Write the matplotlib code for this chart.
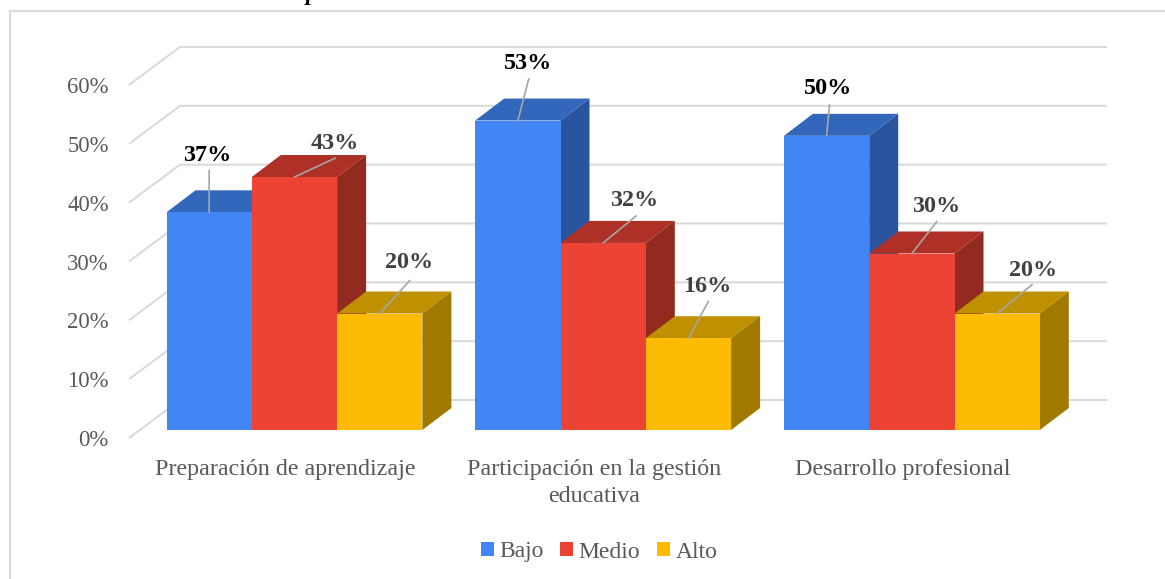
import matplotlib
matplotlib.use("Agg")
import matplotlib.pyplot as plt
from matplotlib.lines import Line2D
from matplotlib.patches import Patch, Polygon

categories = ["Preparación de aprendizaje", "Participación en la gestión\neducativa", "Desarrollo profesional"]
bajo = [37, 52.6, 50]
medio = [43, 31.8, 30]
alto = [19.8, 15.6, 19.8]
series_names = ["Bajo", "Medio", "Alto"]
y_ticks = [0, 10, 20, 30, 40, 50, 60]

W, H = 1165, 579
plt.rcParams["font.family"] = ["Liberation Serif", "DejaVu Serif"]

fig = plt.figure(figsize=(W / 100, H / 100), dpi=100, facecolor="white")

# axes box = front edge of the floor/wall, in pixels
left, right, y0, y60 = 129, 1107, 438, 85
ax = fig.add_axes([left / W, 1 - y0 / H, (right - left) / W, (y0 - y60) / H])
group_px = 308.7
xlim_l = (left - 285) / group_px
ax.set_xlim(xlim_l, xlim_l + (right - left) / group_px)
ax.set_ylim(0, 60)
px_x = 1 / group_px
px_y = 60 / (y0 - y60)

for s in ax.spines.values():
    s.set_visible(False)

# chart frame, only top and left show in the crop
grid_col = "#d9d9d9"
fig.add_artist(Line2D([10 / W, 10 / W], [0, 1 - 11 / H], color=grid_col, lw=1.5))
fig.add_artist(Line2D([10 / W, 1], [1 - 11 / H, 1 - 11 / H], color=grid_col, lw=1.5))
fig.text(312 / W, 1 - 0 / H, "p", style="italic", fontweight="bold", fontsize=17, color="black",
         ha="center", va="baseline")

# grid: slanted on the side wall, flat on the back wall
wall_dx, wall_dy = 51 * px_x, 38 * px_y
for t in y_ticks:
    ax.plot([xlim_l, xlim_l + wall_dx, xlim_l + (right - left) * px_x],
            [t, t + wall_dy, t + wall_dy],
            color=grid_col, lw=1.4, clip_on=False, zorder=1, solid_capstyle="butt", solid_joinstyle="miter")

# bars
bar_w = 85.3 * px_x
start = (166.5 - 285) * px_x
base = (y0 - 430) * px_y
depth_x, depth_y = 29 * px_x, 22 * px_y
front = ["#4285f4", "#ec4335", "#fdbc03"]
top = ["#3367bb", "#ae3027", "#bf9000"]
side = ["#2a559e", "#922a20", "#a07a00"]
values = [bajo, medio, alto]

z = 2
for g in range(len(categories)):
    for k, vals in enumerate(values):
        x = g + start + k * bar_w
        h = base + vals[g]
        ax.add_patch(Polygon([(x, h), (x + depth_x, h + depth_y), (x + bar_w + depth_x, h + depth_y), (x + bar_w, h)],
                             closed=True, facecolor=top[k], edgecolor="none", zorder=z, clip_on=False))
        ax.add_patch(Polygon([(x + bar_w, base), (x + bar_w + depth_x, base + depth_y),
                              (x + bar_w + depth_x, h + depth_y), (x + bar_w, h)],
                             closed=True, facecolor=side[k], edgecolor="none", zorder=z, clip_on=False))
        ax.bar(x, vals[g], width=bar_w, bottom=base, align="edge", color=front[k], zorder=z + 0.5, clip_on=False)
        z += 1

# leader end and label centre, relative to the middle of the bar's top edge (pixels, y up)
leader_off = [[(0, 42), (41, 19), (30, 33)],
              [(11, 42), (33, 27), (20, 37)],
              [(3, 31), (25, 32), (35, 29)]]
label_off = [[(-2, 57), (40, 34), (29, 51)],
             [(10, 57), (31, 42), (19, 52)],
             [(2, 47), (24, 47), (36, 43)]]
label_col = ["black", "#404040", "#404040"]

for g in range(len(categories)):
    for k, vals in enumerate(values):
        xc = g + start + (k + 0.5) * bar_w
        h = base + vals[g]
        ax.annotate("", xy=(xc, h), xytext=leader_off[g][k], textcoords="offset pixels", annotation_clip=False,
                    arrowprops=dict(arrowstyle="-", color="#a6a6a6", lw=1.2, shrinkA=0, shrinkB=0), zorder=100)
        ax.annotate(f"{vals[g]:.0f}%", xy=(xc, h), xytext=label_off[g][k], textcoords="offset pixels",
                    ha="center", va="center", fontsize=17.4, fontweight="bold", color=label_col[k],
                    annotation_clip=False, zorder=101)

ax.set_xticks(range(len(categories)))
ax.set_xticklabels(categories, fontsize=17.3, color="#595959", linespacing=1.36)
ax.set_yticks(y_ticks)
ax.set_yticklabels([f"{t}%" for t in y_ticks], fontsize=16.3, color="#595959")
ax.tick_params(axis="x", length=0, pad=15)
ax.tick_params(axis="y", length=0, pad=14.5)

handles = [Patch(facecolor=c, edgecolor="none") for c in front]
fig.legend(handles, series_names, loc="center", bbox_to_anchor=(599 / W, 1 - 552 / H), ncol=3, frameon=False,
           fontsize=17, labelcolor="#595959", handlelength=0.55, handleheight=0.55, handletextpad=0.22,
           columnspacing=0.72, borderpad=0, borderaxespad=0)

fig.savefig("out.png", dpi=100)
